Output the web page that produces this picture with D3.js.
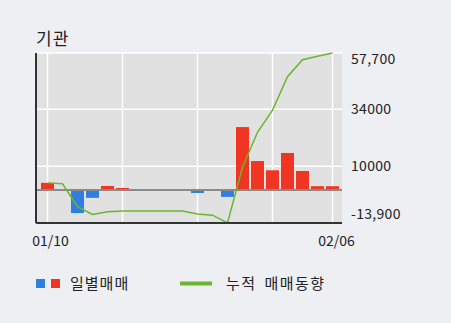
<!DOCTYPE html>
<html>
<head>
<meta charset="utf-8">
<script src="https://cdn.jsdelivr.net/npm/d3@7"></script>
<style>
  body { margin: 0; background: #eeeff3; }
  text { font-family: "Noto Sans CJK KR", "Noto Sans", sans-serif; fill: #222; }
</style>
</head>
<body>
<div id="wrapper"></div>
<script>
const dates = ["01/10","01/11","01/12","01/15","01/16","01/17","01/18","01/19","01/22","01/23",
               "01/24","01/25","01/26","01/29","01/30","01/31","02/01","02/02","02/05","02/06"];
const daily = [3000, 0, -9700, -3300, 1700, 850, 0, 0, 0, 0,
               -1250, 0, -2900, 26500, 12200, 8300, 15600, 8000, 1600, 1600];
const cumulative = [3000, 2600, -7000, -10300, -9200, -8800, -8800, -8800, -8800, -8800,
                    -10100, -10600, -13900, 9600, 24300, 33600, 47700, 54900, 56300, 57700];
const yTicks = [57700, 34000, 10000, -13900];
const yTickLabels = ["57,700", "34000", "10000", "-13,900"];
const xTickLabels = ["01/10", "02/06"];
const gridIdx = [0, 5, 10, 15, 19];

const dimension = {
  width: 451,
  height: 323,
  margin: { top: 53, right: 109, bottom: 100, left: 36 },
};
dimension.boundedWidth = dimension.width - dimension.margin.left - dimension.margin.right;
dimension.boundedHeight = dimension.height - dimension.margin.top - dimension.margin.bottom;

const svg = d3.select("#wrapper")
  .append("svg")
  .attr("width", dimension.width)
  .attr("height", dimension.height);

const bounds = svg.append("g")
  .attr("transform", `translate(${dimension.margin.left},${dimension.margin.top})`);

const x = d3.scalePoint()
  .domain(d3.range(dates.length))
  .range([11.5, dimension.boundedWidth - 9.5]);

const y = d3.scaleLinear()
  .domain([-13900, 57700])
  .range([dimension.boundedHeight, 0]);

// plot background
bounds.append("rect")
  .attr("width", dimension.boundedWidth)
  .attr("height", dimension.boundedHeight)
  .attr("fill", "#e1e1e1");

// grid
bounds.selectAll(".vgrid")
  .data(gridIdx)
  .enter()
  .append("line")
  .attr("x1", d => x(d)).attr("x2", d => x(d))
  .attr("y1", 0).attr("y2", dimension.boundedHeight)
  .attr("stroke", "#fff").attr("stroke-width", 1.5);

bounds.selectAll(".hgrid")
  .data(yTicks.slice(0, 3))
  .enter()
  .append("line")
  .attr("x1", 0).attr("x2", dimension.boundedWidth)
  .attr("y1", d => y(d)).attr("y2", d => y(d))
  .attr("stroke", "#fff").attr("stroke-width", 1.5);

// daily bars
bounds.selectAll(".bar")
  .data(daily)
  .enter()
  .append("rect")
  .attr("x", (d, i) => x(i) - 6.5)
  .attr("width", 13)
  .attr("y", d => y(Math.max(0, d)))
  .attr("height", d => Math.abs(y(d) - y(0)))
  .attr("fill", d => d >= 0 ? "#f03522" : "#2e7fe0");

// zero line
bounds.append("line")
  .attr("x1", 0).attr("x2", dimension.boundedWidth)
  .attr("y1", y(0)).attr("y2", y(0))
  .attr("stroke", "#8a8a8a").attr("stroke-width", 2);

// cumulative line
const line = d3.line()
  .x((d, i) => x(i))
  .y(d => y(d));

bounds.append("path")
  .datum(cumulative)
  .attr("d", line)
  .attr("fill", "none")
  .attr("stroke", "#6cb52e")
  .attr("stroke-width", 1.5);

// axis lines
bounds.append("line")
  .attr("x1", 0).attr("x2", 0)
  .attr("y1", 0).attr("y2", dimension.boundedHeight)
  .attr("stroke", "#333").attr("stroke-width", 2);
bounds.append("line")
  .attr("x1", 0).attr("x2", dimension.boundedWidth)
  .attr("y1", dimension.boundedHeight).attr("y2", dimension.boundedHeight)
  .attr("stroke", "#333").attr("stroke-width", 2);

// right labels
bounds.selectAll(".ylab")
  .data(yTicks)
  .enter()
  .append("text")
  .attr("x", dimension.boundedWidth + 9)
  .attr("y", d => Math.min(Math.max(y(d), 6), dimension.boundedHeight - 9))
  .attr("dy", "0.35em")
  .style("font-size", "14px")
  .style("letter-spacing", "0.3px")
  .text((d, i) => yTickLabels[i]);

// x labels
svg.selectAll(".xlab")
  .data(xTickLabels)
  .enter()
  .append("text")
  .attr("x", d => dimension.margin.left + x(dates.indexOf(d)) + (d === "01/10" ? 3 : 4))
  .attr("y", 246)
  .style("text-anchor", "middle")
  .style("font-size", "14px")
  .text(d => d);

// title
svg.append("text")
  .attr("x", 36).attr("y", 45)
  .style("font-size", "17px")
  .style("letter-spacing", "1px")
  .text("기관");

// legend
const legend = svg.append("g");
legend.append("rect").attr("x", 36).attr("y", 279).attr("width", 9).attr("height", 9).attr("fill", "#2e7fe0");
legend.append("rect").attr("x", 51).attr("y", 279).attr("width", 9).attr("height", 9).attr("fill", "#f03522");
legend.append("text").attr("x", 70).attr("y", 289)
  .style("font-size", "15px").style("letter-spacing", "1px").text("일별매매");
legend.append("line")
  .attr("x1", 180).attr("x2", 212).attr("y1", 283.5).attr("y2", 283.5)
  .attr("stroke", "#6cb52e").attr("stroke-width", 4);
legend.append("text").attr("x", 226).attr("y", 289)
  .style("font-size", "15px").style("letter-spacing", "1.5px").style("word-spacing", "3px")
  .text("누적 매매동향");
</script>
</body>
</html>
